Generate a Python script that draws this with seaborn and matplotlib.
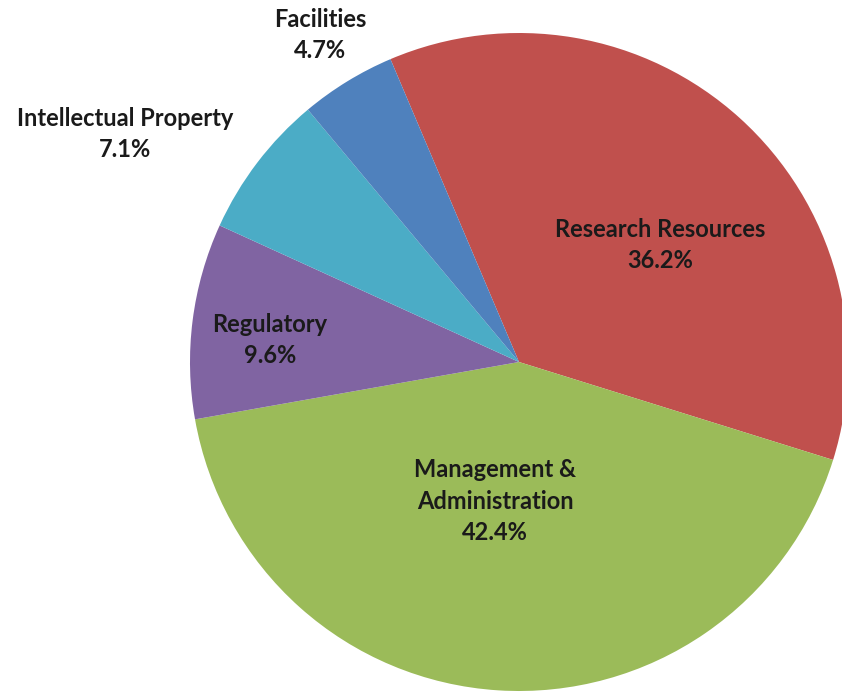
import matplotlib
matplotlib.use("Agg")
import matplotlib.pyplot as plt
import seaborn as sns

# === DATA ===
categories = ["Research Resources", "Management &\nAdministration", "Regulatory",
              "Intellectual Property", "Facilities"]
shares = [36.2, 42.4, 9.6, 7.1, 4.7]
colors = ["#C0504D", "#9BBB59", "#8064A2", "#4BACC6", "#4F81BD"]

# label anchor points (data units, pie radius = 1)
label_x = [0.43, -0.073, -0.757, -1.198, -0.605]
label_y = [0.356, -0.4225, 0.067, 0.693, 0.994]

sns.set_theme(style="white")
plt.rcParams['font.family'] = ['Lato', 'DejaVu Sans']

fig = plt.figure(figsize=(8.42, 6.95), dpi=100)
ax = fig.add_axes([0, 0, 1, 1])

palette = sns.color_palette(colors)
ax.pie(shares, colors=palette, startangle=113, counterclock=False,
       radius=1.0, wedgeprops=dict(linewidth=0))

for name, val, x, y in zip(categories, shares, label_x, label_y):
    ax.text(x, y, f"{name}\n{val:.1f}%", ha="center", va="center",
            fontsize=17, fontweight="bold", color="#1a1a1a", linespacing=1.45)

# frame the pie like the original: centre at (519, 362) px, radius 329 px
r = 329.0
ax.set_xlim(-519 / r, (842 - 519) / r)
ax.set_ylim(-(695 - 362) / r, 362 / r)
ax.set_aspect("equal")
ax.axis("off")

fig.savefig("out.png", dpi=100)
